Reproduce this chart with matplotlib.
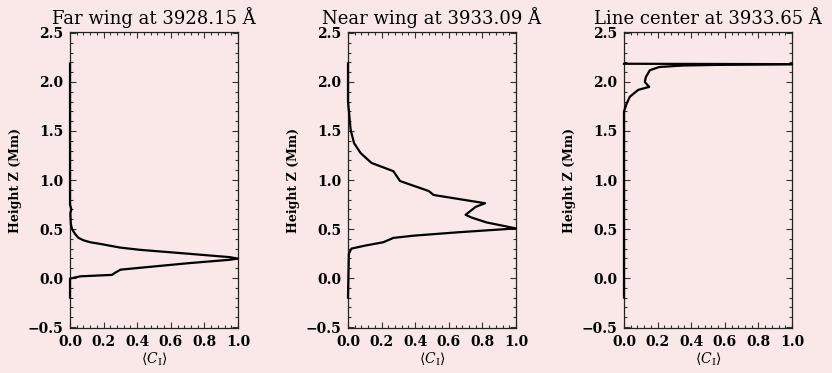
import matplotlib
matplotlib.use("Agg")
import matplotlib.pyplot as plt
from matplotlib.ticker import MultipleLocator

plt.rcParams["font.family"] = ["DejaVu Serif"]
plt.rcParams["mathtext.fontset"] = "dejavuserif"

BG = "#fae8e8"

titles = ["Far wing at 3928.15 Å", "Near wing at 3933.09 Å", "Line center at 3933.65 Å"]

# Normalised contribution function <C_I> versus height (Mm)
far_ci = [0.0, 0.0, 0.0, 0.008, 0.002, 0.005, 0.012, 0.03, 0.05, 0.08, 0.12, 0.18, 0.30,
          0.42, 0.71, 0.95, 1.0, 0.95, 0.71, 0.42, 0.30, 0.27, 0.25, 0.06, 0.0, 0.0]
far_z = [2.19, 1.5, 0.75, 0.70, 0.66, 0.55, 0.50, 0.45, 0.41, 0.385, 0.365, 0.348, 0.31,
         0.287, 0.247, 0.213, 0.198, 0.186, 0.152, 0.105, 0.085, 0.055, 0.032, 0.017,
         -0.006, -0.2]

near_ci = [0.0, 0.0, 0.016, 0.036, 0.075, 0.14, 0.27, 0.31, 0.48, 0.51, 0.816, 0.76,
           0.70, 0.735, 0.825, 1.0, 0.65, 0.39, 0.27, 0.21, 0.10, 0.02, 0.005, 0.0]
near_z = [2.19, 1.80, 1.51, 1.376, 1.275, 1.174, 1.09, 0.989, 0.888, 0.847, 0.763, 0.726,
          0.645, 0.617, 0.567, 0.506, 0.466, 0.432, 0.409, 0.365, 0.33, 0.30, 0.247, -0.2]

core_ci = [0.0, 0.0, 0.016, 0.035, 0.085, 0.15, 0.124, 0.13, 0.154, 0.21, 0.35, 0.6,
           1.0, 0.0]
core_z = [-0.2, 1.70, 1.78, 1.85, 1.92, 1.95, 2.0, 2.05, 2.12, 2.153, 2.168, 2.176,
          2.182, 2.186]

series = [(far_ci, far_z), (near_ci, near_z), (core_ci, core_z)]

fig = plt.figure(figsize=(8.32, 3.73), dpi=100, facecolor=BG)
lefts = [70 / 832, 348 / 832, 624 / 832]
w = 168 / 832
b = 1 - 328 / 373
h = (328 - 32) / 373

for left, title, (ci, z) in zip(lefts, titles, series):
    ax = fig.add_axes([left, b, w, h], facecolor=BG)
    ax.plot(ci, z, color="black", lw=1.6, solid_joinstyle="round", clip_on=False, zorder=3)
    ax.set_xlim(0, 1.0)
    ax.set_ylim(-0.51, 2.51)
    ax.xaxis.set_major_locator(MultipleLocator(0.2))
    ax.xaxis.set_minor_locator(MultipleLocator(0.04))
    ax.yaxis.set_major_locator(MultipleLocator(0.5))
    ax.yaxis.set_minor_locator(MultipleLocator(0.1))
    ax.tick_params(which="both", direction="in", top=True, right=True, width=0.8,
                   color="#333333")
    ax.tick_params(which="major", length=4, labelsize=10, pad=5)
    ax.tick_params(which="minor", length=2)
    for lab in ax.get_xticklabels() + ax.get_yticklabels():
        lab.set_fontweight("bold")
    for sp in ax.spines.values():
        sp.set_linewidth(0.9)
        sp.set_color("#222222")
    ax.set_title(title, fontsize=13, pad=6)
    ax.set_ylabel("Height Z (Mm)", fontsize=9, fontweight="bold", labelpad=4)
    ax.set_xlabel(r"$\langle C_{\rm I}\rangle$", fontsize=10, labelpad=1)

fig.savefig("out.png", dpi=100, facecolor=BG)
